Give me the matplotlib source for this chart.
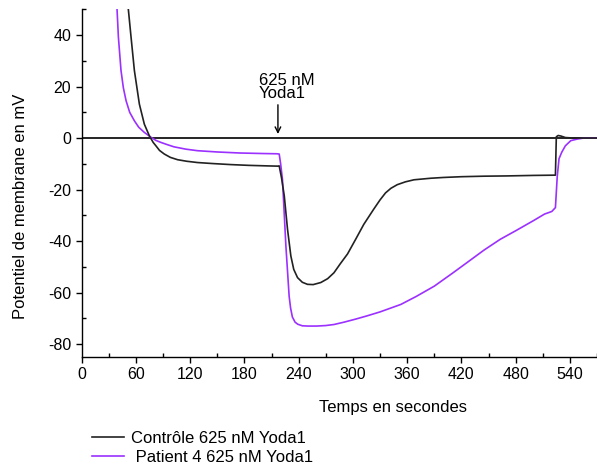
import matplotlib
matplotlib.use("Agg")
import matplotlib.pyplot as plt
from matplotlib.ticker import MultipleLocator

plt.rcParams['font.family'] = ['Liberation Sans', 'DejaVu Sans']
plt.rcParams['axes.unicode_minus'] = False

# Control (black) trace: time (s), membrane potential (mV)
ctrl_t = [49, 51.5, 54.5, 58.2, 63.7, 69.2, 74.7, 79, 82, 86, 91.3, 98, 106, 116, 128,
          145, 165, 185, 205, 217,
          218.4, 221, 224, 227.6, 231.3, 234.5, 238.7, 244, 249.7, 256, 264.4, 272, 279, 286,
          294, 303, 312, 323, 330, 336, 342, 349, 358, 367.5, 386, 400, 420, 445, 470, 500, 524,
          525, 527, 530, 535, 545, 555, 570]
ctrl_v = [58, 50, 39.2, 26.2, 13.2, 5.4, 0.9, -1.7, -3, -4.8, -6.2, -7.5, -8.4, -9.0, -9.5,
          -9.9, -10.3, -10.6, -10.8, -10.9,
          -10.8, -15.5, -22.4, -35.4, -45.8, -51, -54.2, -56, -56.8, -56.9, -56.1, -54.6, -52.3, -48.8,
          -45, -39.3, -33.5, -27.6, -24, -21.3, -19.5, -18.1, -17, -16.2, -15.6, -15.3, -15, -14.8, -14.7, -14.5, -14.4,
          0.5, 1, 0.8, 0.2, 0, 0, 0]

# Patient 4 (purple) trace
pat_t = [38.2, 39, 40.5, 43.4, 46, 49, 53, 58.2, 63, 69.2, 76.6, 82, 87.6, 95, 102, 115, 128, 150, 175, 200, 216,
         218.4, 220, 222, 225.8, 229.4, 231, 233, 236, 239, 244, 250, 260, 270, 279, 290, 303, 316, 330, 353, 370,
         390, 410, 426, 445, 463, 480, 500, 512, 520, 524, 526, 528, 531, 535, 541, 548, 555, 570]
pat_v = [56, 50, 39.2, 26.2, 19.5, 14.5, 10, 6.7, 4.2, 2.2, 0.3, -0.9, -1.7, -2.6, -3.4, -4.3, -4.9, -5.4, -5.8, -6, -6.1,
         -6.2, -10, -16, -41.9, -61.4, -66, -69.5, -71.5, -72.3, -72.9, -73, -73, -72.8, -72.4, -71.5, -70.3, -69, -67.5, -64.6, -61.5,
         -57.5, -52.5, -48.4, -43.5, -39.3, -36, -32, -29.5, -28.5, -27, -15, -8, -5.5, -3, -1, -0.4, 0, 0]

x_ticks = [0, 60, 120, 180, 240, 300, 360, 420, 480, 540]
y_ticks = [-80, -60, -40, -20, 0, 20, 40]

W, H = 597, 466
fig = plt.figure(figsize=(W / 100, H / 100), dpi=100)
ax = fig.add_axes([0.137, 0.234, 0.863, 0.746])

purple = "#9B30FF"
fs_tick = 11.5
fs = 12
ax.plot(ctrl_t, ctrl_v, color="#222222", lw=1.2, label="Contrôle 625 nM Yoda1", zorder=3)
ax.plot(pat_t, pat_v, color=purple, lw=1.2, label=" Patient 4 625 nM Yoda1", zorder=2)
ax.axhline(0, color="black", lw=1.2, zorder=1)

ax.set_xlim(0, 570)
ax.set_ylim(-85, 50)
ax.set_xticks(x_ticks)
ax.set_yticks(y_ticks)
ax.xaxis.set_minor_locator(MultipleLocator(30))
ax.yaxis.set_minor_locator(MultipleLocator(10))
ax.tick_params(which="major", direction="out", length=4, width=1, labelsize=fs_tick, colors="black")
ax.tick_params(which="minor", direction="in", length=3, width=1)
for s in ["top", "right"]:
    ax.spines[s].set_visible(False)
for s in ["left", "bottom"]:
    ax.spines[s].set_linewidth(1)

ax.set_xlabel("Temps en secondes", fontsize=fs)
ax.set_ylabel("Potentiel de membrane en mV", fontsize=fs)
# place labels (axes coords derived from pixel positions)
ax_x0, ax_w = 0.137 * W, 0.863 * W
ax_y0, ax_h = (1 - 0.234) * H, 0.746 * H
ax.xaxis.set_label_coords((393 - ax_x0) / ax_w, (ax_y0 - 408) / ax_h)
ax.xaxis.label.set_va("center")
ax.yaxis.set_label_coords((21 - ax_x0) / ax_w, (ax_y0 - 206) / ax_h)
ax.yaxis.label.set_va("center")

ax.annotate("", xy=(217, 0.5), xytext=(217, 14),
            arrowprops=dict(arrowstyle="->", color="black", lw=1))
ax.text(196, 14.5, "625 nM\nYoda1", fontsize=fs, ha="left", va="bottom", linespacing=0.8)

fig.legend(loc="lower left", bbox_to_anchor=(0.135, -0.022), frameon=False,
           fontsize=fs, handlelength=1.9, handletextpad=0.45, labelspacing=0.2,
           borderpad=0.2)

fig.savefig("out.png", dpi=100)
